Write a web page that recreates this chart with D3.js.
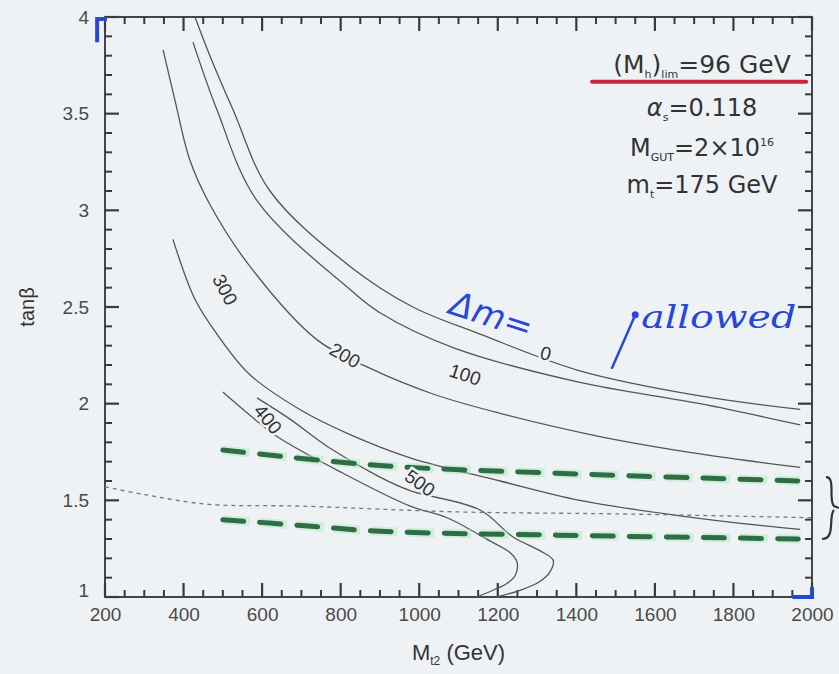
<!DOCTYPE html>
<html>
<head>
<meta charset="utf-8">
<script src="https://cdn.jsdelivr.net/npm/d3@7"></script>
<style>
    body { margin: 0; background: #eff2f5; }
    svg { display: block; font-family: "Liberation Sans", Arial, sans-serif; }
</style>
</head>
<body>
<svg id="chart" width="839" height="674"></svg>
<script>
// contour lines, [M (GeV), tanβ]
var curveDm0 = [[429, 4.0], [467, 3.80], [526, 3.52], [620, 3.10], [824, 2.71], [984, 2.50], [1155, 2.36], [1409, 2.17], [1715, 2.04], [1970, 1.97]];
var curve100 = [[424, 3.87], [485, 3.52], [587, 3.05], [824, 2.59], [900, 2.47], [1086, 2.29], [1409, 2.11], [1715, 2.00], [1970, 1.89]];
var curve200 = [[348, 3.83], [378, 3.57], [416, 3.26], [467, 3.03], [569, 2.71], [740, 2.33], [867, 2.19], [1035, 2.05], [1206, 1.95], [1460, 1.83], [1715, 1.74], [1970, 1.67]];
var curve300 = [[373, 2.85], [429, 2.54], [485, 2.36], [569, 2.15], [696, 1.97], [824, 1.84], [977, 1.72], [1206, 1.60], [1409, 1.50], [1664, 1.42], [1868, 1.37], [1970, 1.35]];
var curve400 = [[500, 2.06], [569, 1.94], [638, 1.83], [806, 1.64], [977, 1.47], [1071, 1.41], [1180, 1.29], [1231, 1.23], [1249, 1.18], [1244, 1.11], [1223, 1.07], [1193, 1.04], [1147, 1.0]];
var curve500 = [[587, 2.03], [671, 1.92], [765, 1.78], [900, 1.62], [977, 1.55], [1155, 1.45], [1239, 1.31], [1307, 1.24], [1341, 1.19], [1333, 1.13], [1307, 1.08], [1264, 1.04], [1198, 1.0]];
var dottedLine = [[200, 1.57], [300, 1.53], [460, 1.48], [700, 1.47], [1100, 1.44], [1500, 1.43], [2000, 1.41]];
var greenUpper = [[500, 1.76], [900, 1.68], [1350, 1.64], [1970, 1.60]];
var greenLower = [[500, 1.40], [700, 1.37], [900, 1.34], [1350, 1.32], [1970, 1.30]];

// contour labels: text, M, tanβ, angle
var contourLabels = [["300", 506, 2.59, 62], ["200", 811, 2.25, 30], ["100", 1117, 2.15, 18],
    ["0", 1322, 2.26, 14], ["400", 615, 1.92, 50], ["500", 1002, 1.59, 35]];

var xTicks = [200, 400, 600, 800, 1000, 1200, 1400, 1600, 1800, 2000];
var yTicks = [1, 1.5, 2, 2.5, 3, 3.5, 4];
var infoLines = ["α", "M", "m"];

var svg = d3.select("#chart");
var margin = {top: 17, left: 105, right: 27, bottom: 77};
var width = 839 - margin.left - margin.right;
var height = 674 - margin.top - margin.bottom;

var xScale = d3.scaleLinear().domain([200, 2000]).range([0, width]);
var yScale = d3.scaleLinear().domain([1, 4]).range([height, 0]);

var g = svg.append("g")
    .attr("transform", "translate(" + margin.left + "," + margin.top + ")");

var line = d3.line()
    .x(function (d) { return xScale(d[0]); })
    .y(function (d) { return yScale(d[1]); })
    .curve(d3.curveCatmullRom.alpha(0.5));

// ===== axes: labels from d3 axis
var xAxisG = g.append("g")
    .attr("transform", "translate(0," + height + ")")
    .call(d3.axisBottom(xScale).tickValues(xTicks).tickSize(0).tickPadding(11).tickFormat(d3.format("d")));
var yAxisG = g.append("g")
    .call(d3.axisLeft(yScale).tickValues(yTicks).tickSize(0).tickPadding(16).tickFormat(function (d) { return String(d); }));
[xAxisG, yAxisG].forEach(function (a) {
    a.select(".domain").remove();
    a.selectAll("text").attr("fill", "#4a4a4a").style("font-size", "19px");
});
yAxisG.selectAll(".tick").filter(function (d) { return d === 1; }).select("text").attr("dy", "-0.05em");

var xMinor = d3.range(250, 2000, 50).filter(function (v) { return v % 200 !== 0; });
var yMinor = d3.range(11, 40, 1).map(function (v) { return v / 10; }).filter(function (v) { return Math.round(v * 10) % 5 !== 0; });

g.append("rect")
    .attr("width", width).attr("height", height)
    .attr("fill", "none").attr("stroke", "#333").attr("stroke-width", 1.8);

// tick marks, inside on all four sides
var tickG = g.append("g").attr("class", "tickmarks");
function xTickMarks(vals, len, cls, w) {
    tickG.selectAll("line." + cls + "b").data(vals).enter().append("line")
        .attr("class", cls + "b")
        .attr("x1", function (d) { return xScale(d); })
        .attr("x2", function (d) { return xScale(d); })
        .attr("y1", height).attr("y2", height - len)
        .attr("stroke", "#3a3a3a").attr("stroke-width", w);
    tickG.selectAll("line." + cls + "t").data(vals).enter().append("line")
        .attr("class", cls + "t")
        .attr("x1", function (d) { return xScale(d); })
        .attr("x2", function (d) { return xScale(d); })
        .attr("y1", 0).attr("y2", len)
        .attr("stroke", "#3a3a3a").attr("stroke-width", w);
}
function yTickMarks(vals, len, cls, w) {
    tickG.selectAll("line." + cls + "l").data(vals).enter().append("line")
        .attr("class", cls + "l")
        .attr("y1", function (d) { return yScale(d); })
        .attr("y2", function (d) { return yScale(d); })
        .attr("x1", 0).attr("x2", len)
        .attr("stroke", "#3a3a3a").attr("stroke-width", w);
    tickG.selectAll("line." + cls + "r").data(vals).enter().append("line")
        .attr("class", cls + "r")
        .attr("y1", function (d) { return yScale(d); })
        .attr("y2", function (d) { return yScale(d); })
        .attr("x1", width).attr("x2", width - len)
        .attr("stroke", "#3a3a3a").attr("stroke-width", w);
}
xTickMarks(xTicks, 14, "xmaj", 2.2);
xTickMarks(xMinor, 7, "xmin", 2);
yTickMarks(yTicks, 14, "ymaj", 2.2);
yTickMarks(yMinor, 7, "ymin", 2);

// axis titles
var xTitle = svg.append("text")
    .attr("x", margin.left + xScale(1100))
    .attr("y", 660)
    .attr("text-anchor", "middle")
    .attr("fill", "#333")
    .style("font-size", "22px");
xTitle.append("tspan").text("M");
xTitle.append("tspan").attr("dy", 5).style("font-size", "12px").text("t2");
xTitle.append("tspan").attr("dy", -5).text(" (GeV)");

svg.append("text")
    .attr("transform", "translate(34," + (margin.top + yScale(2.5)) + ") rotate(-90)")
    .attr("text-anchor", "middle")
    .attr("fill", "#333")
    .style("font-size", "20px")
    .text("tanβ");

// ===== contours
var contourG = g.append("g").attr("class", "contours");
[curveDm0, curve100, curve200, curve300, curve400, curve500].forEach(function (c) {
    contourG.append("path")
        .attr("d", line(c))
        .attr("fill", "none")
        .attr("stroke", "#555")
        .attr("stroke-width", 1.3);
});

g.append("path")
    .attr("d", line(dottedLine))
    .attr("fill", "none")
    .attr("stroke", "#777")
    .attr("stroke-width", 1.3)
    .attr("stroke-dasharray", "4,4");

// green dashed bounds, with a light glow
[greenUpper, greenLower].forEach(function (c) {
    g.append("path")
        .attr("d", line(c))
        .attr("fill", "none")
        .attr("stroke", "#a8e6bb")
        .attr("stroke-width", 9)
        .attr("stroke-opacity", 0.45)
        .attr("stroke-dasharray", "27,10");
    g.append("path")
        .attr("d", line(c))
        .attr("fill", "none")
        .attr("stroke", "#2f6e45")
        .attr("stroke-width", 5)
        .attr("stroke-linecap", "round")
        .attr("stroke-dasharray", "21,16");
});

// contour labels with background halo to break the line
g.selectAll(".clabel")
    .data(contourLabels)
    .enter()
    .append("text")
    .attr("class", "clabel")
    .attr("transform", function (d) {
        return "translate(" + xScale(d[1]) + "," + yScale(d[2]) + ") rotate(" + d[3] + ")";
    })
    .attr("text-anchor", "middle")
    .attr("dy", "0.35em")
    .attr("fill", "#333")
    .attr("stroke", "#eff2f5")
    .attr("stroke-width", 5)
    .attr("paint-order", "stroke")
    .style("font-size", "19px")
    .text(function (d) { return d[0]; });

// ===== parameter box, top right
var infoX = xScale(1720);
var info1 = g.append("text")
    .attr("x", infoX).attr("y", yScale(3.71))
    .attr("text-anchor", "middle")
    .attr("fill", "#333")
    .style("font-family", "'DejaVu Sans'")
    .style("font-size", "25px");
info1.append("tspan").text("(M");
info1.append("tspan").attr("dy", 5).style("font-size", "11px").text("h");
info1.append("tspan").attr("dy", -5).text(")");
info1.append("tspan").attr("dy", 5).style("font-size", "11px").text("lim");
info1.append("tspan").attr("dy", -5).text("=96 GeV");

g.append("line")
    .attr("x1", xScale(1440)).attr("x2", xScale(1985))
    .attr("y1", yScale(3.665)).attr("y2", yScale(3.665))
    .attr("stroke", "#c8283a")
    .attr("stroke-width", 4)
    .attr("stroke-linecap", "round");

var info2 = g.append("text")
    .attr("x", infoX).attr("y", yScale(3.49))
    .attr("text-anchor", "middle").attr("fill", "#333")
    .style("font-family", "'DejaVu Sans'").style("font-size", "24px");
info2.append("tspan").style("font-style", "italic").text(infoLines[0]);
info2.append("tspan").attr("dy", 5).style("font-size", "11px").text("s");
info2.append("tspan").attr("dy", -5).text("=0.118");

var info3 = g.append("text")
    .attr("x", infoX).attr("y", yScale(3.28))
    .attr("text-anchor", "middle").attr("fill", "#333")
    .style("font-family", "'DejaVu Sans'").style("font-size", "24px");
info3.append("tspan").text(infoLines[1]);
info3.append("tspan").attr("dy", 5).style("font-size", "11px").text("GUT");
info3.append("tspan").attr("dy", -5).text("=2×10");
info3.append("tspan").attr("dy", -10).style("font-size", "11px").text("16");

var info4 = g.append("text")
    .attr("x", infoX).attr("y", yScale(3.09))
    .attr("text-anchor", "middle").attr("fill", "#333")
    .style("font-family", "'DejaVu Sans'").style("font-size", "24px");
info4.append("tspan").text(infoLines[2]);
info4.append("tspan").attr("dy", 5).style("font-size", "11px").text("t");
info4.append("tspan").attr("dy", -5).text("=175 GeV");

// ===== hand written notes (blue)
var blue = "#2748d6";
g.append("text")
    .attr("transform", "translate(" + xScale(1175) + "," + yScale(2.40) + ") rotate(18)")
    .attr("text-anchor", "middle")
    .attr("fill", blue)
    .style("font-size", "34px")
    .style("font-style", "italic")
    .style("font-family", "'DejaVu Sans'")
    .text("Δm=");

g.append("text")
    .attr("x", xScale(1565)).attr("y", yScale(2.39))
    .attr("fill", blue)
    .attr("textLength", xScale(1960) - xScale(1565))
    .attr("lengthAdjust", "spacingAndGlyphs")
    .style("font-size", "32px")
    .style("font-style", "italic")
    .style("font-family", "'DejaVu Serif'")
    .text("allowed");

g.append("line")
    .attr("x1", xScale(1490)).attr("y1", yScale(2.18))
    .attr("x2", xScale(1548)).attr("y2", yScale(2.45))
    .attr("stroke", blue).attr("stroke-width", 2.5);
g.append("circle")
    .attr("cx", xScale(1550)).attr("cy", yScale(2.46))
    .attr("r", 3.5).attr("fill", blue);

// corner marks
g.append("path")
    .attr("d", d3.line()([[xScale(180), yScale(3.87)], [xScale(180), yScale(3.99)], [xScale(205), yScale(3.99)]]))
    .attr("fill", "none").attr("stroke", blue).attr("stroke-width", 4);
g.append("path")
    .attr("d", d3.line()([[xScale(1950), yScale(1.0)], [xScale(2000), yScale(1.0)], [xScale(2000), yScale(1.05)]]))
    .attr("fill", "none").attr("stroke", blue).attr("stroke-width", 4);

// brace on the right of the green band
var bx = xScale(2000) + 14;
var bTop = yScale(1.62), bBot = yScale(1.30), bMid = (bTop + bBot) / 2;
g.append("path")
    .attr("d", "M" + bx + "," + bTop + " C" + (bx + 10) + "," + bTop + " " + (bx + 2) + "," + (bMid - 8) + " " + (bx + 8) + "," + (bMid - 2) +
        " L" + (bx + 13) + "," + bMid +
        " M" + (bx + 8) + "," + (bMid + 2) + " C" + (bx + 2) + "," + (bMid + 8) + " " + (bx + 10) + "," + bBot + " " + (bx - 4) + "," + bBot)
    .attr("fill", "none").attr("stroke", "#333").attr("stroke-width", 2.2);
</script>
</body>
</html>
